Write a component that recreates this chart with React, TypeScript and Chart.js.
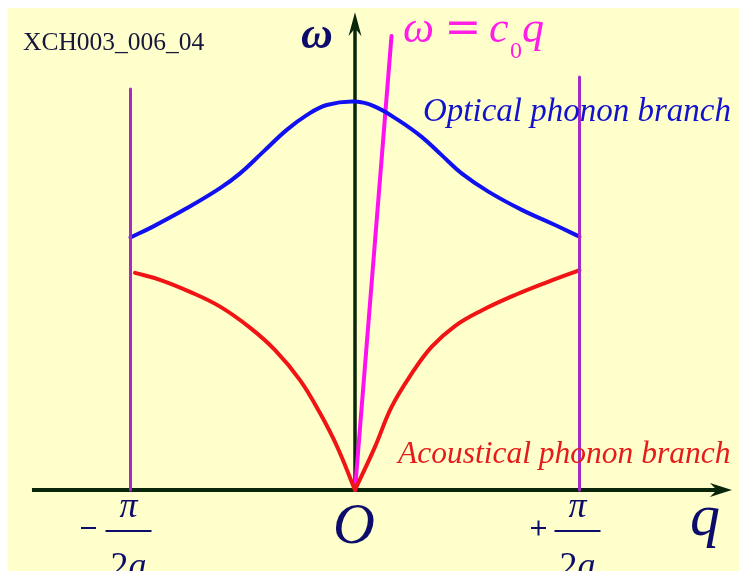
import React, { useEffect, useRef } from "react";
import { Chart, registerables } from "chart.js";

Chart.register(...registerables);

// Wave vector q in units of π/2a, frequency ω in units of the optical maximum.
const qOptical = [
  -1.0, -0.9, -0.75, -0.601, -0.512, -0.408, -0.304, -0.215, -0.126, 0,
  0.089, 0.193, 0.297, 0.386, 0.475, 0.594, 0.743, 0.891, 1.0,
];
const wOptical = [
  0.65, 0.678, 0.725, 0.777, 0.815, 0.871, 0.927, 0.965, 0.991, 1.0,
  0.987, 0.952, 0.909, 0.862, 0.815, 0.768, 0.721, 0.682, 0.652,
];

const qAcousticLeft = [-0.98, -0.869, -0.735, -0.601, -0.468, -0.356, -0.245, -0.156, -0.08, 0];
const wAcousticLeft = [0.559, 0.541, 0.51, 0.472, 0.418, 0.36, 0.283, 0.198, 0.112, 0];
const qAcousticRight = [0, 0.089, 0.163, 0.253, 0.342, 0.445, 0.564, 0.713, 0.86, 1.0];
const wAcousticRight = [0, 0.111, 0.214, 0.3, 0.369, 0.422, 0.462, 0.502, 0.536, 0.566];

// ω = c0 q (long-wavelength sound line)
const qSound = [0, 0.1626];
const wSound = [0, 1.1686];

// Brillouin zone boundaries at q = ±π/2a
const qZoneLeft = [-1, -1];
const wZoneLeft = [0, 1.032];
const qZoneRight = [1, 1];
const wZoneRight = [0, 1.063];

// Axis extents and view window
const qAxisRange = [-1.439, 1.679];
const wAxisTop = 1.23;
const qView = [-1.5457, 1.7105];
const wView = [-0.2085, 1.2407];

const WIDTH = 731;
const HEIGHT = 563;
const BG = "#ffffcc";
const AXIS = "#0a260a";
const NAVY = "#0c0c6a";
const SERIF = '"Liberation Serif", "Times New Roman", serif';

const pts = (qs: number[], ws: number[]) => qs.map((q, i) => ({ x: q, y: ws[i] }));

function arrowHead(
  ctx: CanvasRenderingContext2D,
  tx: number,
  ty: number,
  dx: number,
  dy: number,
  len: number,
  half: number,
  notch: number
) {
  const nx = -dy;
  const ny = dx;
  ctx.beginPath();
  ctx.moveTo(tx, ty);
  ctx.lineTo(tx - dx * len + nx * half, ty - dy * len + ny * half);
  ctx.lineTo(tx - dx * notch, ty - dy * notch);
  ctx.lineTo(tx - dx * len - nx * half, ty - dy * len - ny * half);
  ctx.closePath();
  ctx.fill();
}

const decorations = {
  id: "decorations",
  beforeDraw(chart: any) {
    const { ctx, width, height } = chart;
    ctx.save();
    ctx.fillStyle = BG;
    ctx.fillRect(0, 0, width, height);
    ctx.restore();
  },
  beforeDatasetsDraw(chart: any) {
    const { ctx, scales } = chart;
    const x = scales.x;
    const y = scales.y;
    const y0 = y.getPixelForValue(0);
    const x0 = x.getPixelForValue(0);
    ctx.save();
    ctx.strokeStyle = AXIS;
    ctx.fillStyle = AXIS;

    // q axis
    const xa = x.getPixelForValue(qAxisRange[0]);
    const xb = x.getPixelForValue(qAxisRange[1]);
    ctx.lineWidth = 4;
    ctx.beginPath();
    ctx.moveTo(xa, y0);
    ctx.lineTo(xb - 14, y0);
    ctx.stroke();
    arrowHead(ctx, xb, y0, 1, 0, 22, 7, 15);

    // ω axis
    const yt = y.getPixelForValue(wAxisTop);
    ctx.lineWidth = 3.5;
    ctx.beginPath();
    ctx.moveTo(x0, y0 + 2);
    ctx.lineTo(x0, yt + 14);
    ctx.stroke();
    arrowHead(ctx, x0, yt, 0, -1, 24, 6.5, 16);
    ctx.restore();
  },
  afterDatasetsDraw(chart: any) {
    const { ctx, scales } = chart;
    const x = scales.x;
    const y = scales.y;
    const y0 = y.getPixelForValue(0);
    const x0 = x.getPixelForValue(0);
    ctx.save();
    ctx.textBaseline = "alphabetic";

    // figure tag
    ctx.fillStyle = "#17173c";
    ctx.textAlign = "left";
    ctx.font = `25.5px ${SERIF}`;
    ctx.fillText("XCH003_006_04", 15, 42);

    // axis titles
    ctx.fillStyle = NAVY;
    ctx.textAlign = "center";
    ctx.font = `italic bold 44px ${SERIF}`;
    ctx.fillText("ω", x0 - 38, 40);
    ctx.font = `italic 60px ${SERIF}`;
    ctx.fillText("q", 697, y0 + 45);
    ctx.font = `italic 58px ${SERIF}`;
    ctx.fillText("O", x0 - 1, y0 + 53);

    // ±π/2a tick labels
    const fraction = (q: number, sign: string) => {
      const cx = x.getPixelForValue(q) - 2;
      ctx.fillStyle = NAVY;
      ctx.strokeStyle = NAVY;
      ctx.textAlign = "center";
      ctx.font = `italic 36px ${SERIF}`;
      ctx.fillText("π", cx, y0 + 27);
      ctx.lineWidth = 2;
      ctx.beginPath();
      ctx.moveTo(cx - 23, y0 + 41);
      ctx.lineTo(cx + 23, y0 + 41);
      ctx.stroke();
      ctx.textAlign = "right";
      ctx.font = `36px ${SERIF}`;
      ctx.fillText("2", cx, y0 + 87);
      ctx.textAlign = "left";
      ctx.font = `italic 36px ${SERIF}`;
      ctx.fillText("a", cx, y0 + 87);
      const sx = cx + (sign === "−" ? -40 : -39);
      const sy = y0 + 38;
      ctx.lineWidth = 2;
      ctx.beginPath();
      ctx.moveTo(sx - 7.5, sy);
      ctx.lineTo(sx + 7.5, sy);
      if (sign === "+") {
        ctx.moveTo(sx, sy - 7.5);
        ctx.lineTo(sx, sy + 7.5);
      }
      ctx.stroke();
    };
    fraction(-1, "−");
    fraction(1, "+");

    // ω = c0 q
    ctx.fillStyle = "#ff1ee6";
    ctx.textAlign = "left";
    ctx.font = `italic 44px ${SERIF}`;
    ctx.fillText("ω", 395, 34);
    ctx.textAlign = "center";
    ctx.font = `44px "DejaVu Serif", serif`;
    ctx.fillText("=", 455, 34);
    ctx.textAlign = "left";
    ctx.font = `italic 44px ${SERIF}`;
    ctx.fillText("c", 481, 34);
    ctx.font = `24px ${SERIF}`;
    ctx.fillText("0", 502, 50);
    ctx.font = `italic 44px ${SERIF}`;
    ctx.fillText("q", 514, 34);

    // branch names
    ctx.font = `italic 33px ${SERIF}`;
    ctx.fillStyle = "#1212cc";
    ctx.fillText("Optical phonon branch", 415, 113);
    ctx.font = `italic 31.5px ${SERIF}`;
    ctx.fillStyle = "#e41c1c";
    ctx.fillText("Acoustical phonon branch", 390, 455);
    ctx.restore();
  },
};

export default function App() {
  const canvasRef = useRef<HTMLCanvasElement | null>(null);

  useEffect(() => {
    const canvas = canvasRef.current;
    if (!canvas) return;

    const line = (data: any[], color: string, width: number, tension = 0.4) => ({
      data,
      borderColor: color,
      borderWidth: width,
      pointRadius: 0,
      fill: false,
      tension,
      borderCapStyle: "round" as const,
      borderJoinStyle: "round" as const,
    });

    const chart = new Chart(canvas, {
      type: "line",
      data: {
        datasets: [
          line(pts(qZoneLeft, wZoneLeft), "#a42cc2", 3, 0),
          line(pts(qZoneRight, wZoneRight), "#a42cc2", 3, 0),
          line(pts(qOptical, wOptical), "#1010f0", 4),
          line(pts(qAcousticLeft, wAcousticLeft), "#f01414", 4),
          line(pts(qAcousticRight, wAcousticRight), "#f01414", 4),
          line(pts(qSound, wSound), "#ff10f0", 4, 0),
        ],
      },
      options: {
        animation: false,
        responsive: false,
        layout: { padding: 0 },
        plugins: { legend: { display: false }, tooltip: { enabled: false } },
        scales: {
          x: { type: "linear", display: false, min: qView[0], max: qView[1] },
          y: { type: "linear", display: false, min: wView[0], max: wView[1] },
        },
      },
      plugins: [decorations],
    });
    return () => chart.destroy();
  }, []);

  return (
    <div style={{ position: "fixed", left: 8, top: 8, width: WIDTH, height: HEIGHT }}>
      <canvas ref={canvasRef} width={WIDTH} height={HEIGHT} style={{ display: "block" }} />
    </div>
  );
}
